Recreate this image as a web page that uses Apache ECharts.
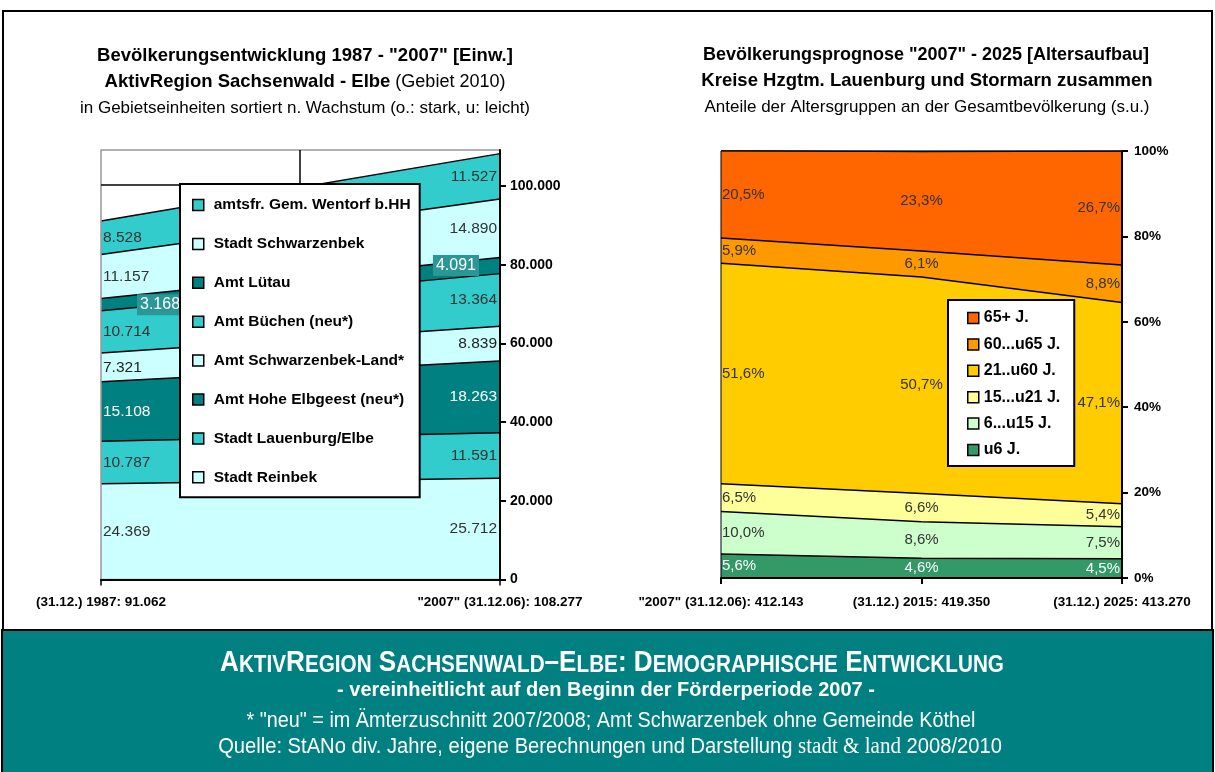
<!DOCTYPE html>
<html><head><meta charset="utf-8">
<script src="https://cdn.jsdelivr.net/npm/echarts@6/dist/echarts.min.js"></script>
<style>html,body{margin:0;padding:0;background:#fff}#c{width:1215px;height:772px}</style>
</head><body><div id="c"></div>
<script>
// ---------- LEFT CHART DATA ----------
const leftCategories = ['(31.12.) 1987: 91.062', '"2007" (31.12.06): 108.277'];
const leftSeriesNames = ['Stadt Reinbek', 'Stadt Lauenburg/Elbe', 'Amt Hohe Elbgeest (neu*)', 'Amt Schwarzenbek-Land*', 'Amt Büchen (neu*)', 'Amt Lütau', 'Stadt Schwarzenbek', 'amtsfr. Gem. Wentorf b.HH'];
const reinbek = [24369, 25712];
const lauenburg = [10787, 11591];
const hoheElbgeest = [15108, 18263];
const schwarzenbekLand = [7321, 8839];
const buechen = [10714, 13364];
const luetau = [3168, 4091];
const schwarzenbek = [11157, 14890];
const wentorf = [8528, 11527];
const leftYTicks = [0, 20000, 40000, 60000, 80000, 100000];

// ---------- RIGHT CHART DATA ----------
const rightCategories = ['"2007" (31.12.06): 412.143', '(31.12.) 2015: 419.350', '(31.12.) 2025: 413.270'];
const rightSeriesNames = ['u6 J.', '6...u15 J.', '15...u21 J.', '21..u60 J.', '60...u65 J.', '65+ J.'];
const u6 = [5.6, 4.6, 4.5];
const u6to15 = [10.0, 8.6, 7.5];
const u15to21 = [6.5, 6.6, 5.4];
const u21to60 = [51.6, 50.7, 47.1];
const u60to65 = [5.9, 6.1, 8.8];
const over65 = [20.5, 23.3, 26.7];
const rightYTicks = [0, 20, 40, 60, 80, 100];

// ---------- STYLE ----------
const FONT = '"Liberation Sans", Arial, sans-serif';
const leftColors = ['#CCFFFF', '#33CCCC', '#008080', '#CCFFFF', '#33CCCC', '#008080', '#CCFFFF', '#33CCCC'];
const leftTextColors = ['#333', '#333', '#fff', '#222', '#333', '#fff', '#333', '#333'];
const rightColors = ['#339966', '#CCFFCC', '#FFFF99', '#FFCC00', '#FF9900', '#FF6600'];

const leftValues = [reinbek, lauenburg, hoheElbgeest, schwarzenbekLand, buechen, luetau, schwarzenbek, wentorf];
const rightValues = [u6, u6to15, u15to21, u21to60, u60to65, over65];

function fmtThousands(v) { return String(Math.round(v)).replace(/\B(?=(\d{3})+(?!\d))/g, '.'); }
function fmtPct(v) { return v.toFixed(1).replace('.', ',') + '%'; }

function buildLabelData(arrs) {
  const out = []; const n = arrs[0].length;
  for (let c = 0; c < n; c++) {
    let acc = 0;
    arrs.forEach((a, si) => { out.push([c, acc, acc + a[c], si, a[c]]); acc += a[c]; });
  }
  return out;
}

const series = [];
leftValues.forEach((arr, i) => {
  series.push({
    name: leftSeriesNames[i], type: 'line', xAxisIndex: 0, yAxisIndex: 0, stack: 'left',
    data: arr, symbol: 'none', z: 20 - i, silent: true,
    lineStyle: { color: '#000', width: 1.5 },
    areaStyle: { color: leftColors[i], opacity: 1 },
    itemStyle: { color: leftColors[i] }
  });
});
rightValues.forEach((arr, i) => {
  series.push({
    name: rightSeriesNames[i], type: 'line', xAxisIndex: 1, yAxisIndex: 1, stack: 'right',
    data: arr, symbol: 'none', z: 20 - i, silent: true,
    lineStyle: { color: '#000', width: 1.5 },
    areaStyle: { color: rightColors[i], opacity: 1 },
    itemStyle: { color: rightColors[i] }
  });
});

series.push({
  type: 'custom', xAxisIndex: 0, yAxisIndex: 0, z: 40, silent: true,
  data: buildLabelData(leftValues), encode: { x: 0, y: 2 },
  renderItem: function (params, api) {
    const c = api.value(0), lo = api.value(1), hi = api.value(2), si = api.value(3), v = api.value(4);
    const p = api.coord([c, (lo + hi) / 2]);
    const first = c === 0;
    const style = {
      text: fmtThousands(v), align: first ? 'left' : 'right', verticalAlign: 'middle',
      fill: leftTextColors[si], font: '15.5px ' + FONT
    };
    let x = first ? p[0] + 2 : p[0] - 3;
    if (si === 5) {
      x = first ? p[0] + 36 : p[0] - 21;
      style.backgroundColor = '#2a9696'; style.fill = '#fff'; style.padding = [3, 3, 2, 3];
      style.font = '16px ' + FONT;
    }
    return { type: 'text', x: x, y: p[1], style: style };
  }
});
series.push({
  type: 'custom', xAxisIndex: 1, yAxisIndex: 1, z: 40, silent: true,
  data: buildLabelData(rightValues), encode: { x: 0, y: 2 },
  renderItem: function (params, api) {
    const c = api.value(0), lo = api.value(1), hi = api.value(2), si = api.value(3), v = api.value(4);
    const p = api.coord([c, (Math.min(lo, 100) + Math.min(hi, 100)) / 2]);
    const align = c === 0 ? 'left' : (c === 2 ? 'right' : 'center');
    const x = c === 0 ? p[0] + 1 : (c === 2 ? p[0] - 2 : p[0]);
    return { type: 'text', x: x, y: p[1], style: {
      text: fmtPct(v), align: align, verticalAlign: 'middle',
      fill: si === 0 ? '#fff' : '#333', font: '15px ' + FONT } };
  }
});

function smallCaps(str) {
  let out = '', run = '', runType = null;
  const flush = () => { if (run) out += '{' + runType + '|' + run + '}'; run = ''; };
  for (const ch of str) {
    const t = (ch !== ch.toUpperCase()) ? 's' : 'c';
    if (t !== runType) { flush(); runType = t; }
    run += ch.toUpperCase();
  }
  flush();
  return out;
}

const axisLabelStyle = { color: '#000', fontWeight: 'bold', fontSize: 13.5, fontFamily: FONT };

const option = {
  animation: false,
  backgroundColor: '#fff',
  grid: [
    { left: 101, top: 150, width: 399, height: 429.5, show: true, borderColor: '#999', borderWidth: 1.5, backgroundColor: 'transparent', z: 30 },
    { left: 721, top: 151, width: 401, height: 427, show: true, borderColor: '#000', borderWidth: 1, backgroundColor: 'transparent', z: 30 }
  ],
  xAxis: [
    { type: 'category', gridIndex: 0, data: leftCategories, boundaryGap: false, z: 45,
      axisLine: { lineStyle: { color: '#000', width: 2 } },
      axisTick: { show: true, length: 6, lineStyle: { color: '#000', width: 1.5 } },
      axisLabel: Object.assign({ margin: 16, interval: 0 }, axisLabelStyle), splitLine: { show: false } },
    { type: 'category', gridIndex: 1, data: rightCategories, boundaryGap: false, z: 45,
      axisLine: { lineStyle: { color: '#000', width: 2 } },
      axisTick: { show: true, length: 6, interval: 0, lineStyle: { color: '#000', width: 2 } },
      axisLabel: Object.assign({ margin: 17, interval: 0, hideOverlap: false }, axisLabelStyle), splitLine: { show: false } }
  ],
  yAxis: [
    { type: 'value', gridIndex: 0, position: 'right', min: 0, max: 109200, z: 45,
      axisLine: { show: true, lineStyle: { color: '#000', width: 2 } },
      axisTick: { show: true, length: 6, customValues: leftYTicks, lineStyle: { color: '#000', width: 2 } },
      axisLabel: Object.assign({ margin: 10, customValues: leftYTicks, formatter: v => fmtThousands(v) }, axisLabelStyle, { fontSize: 14 }),
      splitLine: { show: false } },
    { type: 'value', gridIndex: 1, position: 'right', min: 0, max: 100, interval: 20, z: 45,
      axisLine: { show: true, lineStyle: { color: '#000', width: 2 } },
      axisTick: { show: true, length: 6, customValues: rightYTicks, lineStyle: { color: '#000', width: 2 } },
      axisLabel: Object.assign({ margin: 12, customValues: rightYTicks, formatter: v => v + '%' }, axisLabelStyle),
      splitLine: { show: false } }
  ],
  legend: [
    { orient: 'vertical', left: 180, top: 184, z: 50, icon: 'rect', itemWidth: 11, itemHeight: 11, itemGap: 22.9,
      padding: [13, 9, 12, 12], backgroundColor: '#fff', borderColor: '#000', borderWidth: 2, selectedMode: false,
      itemStyle: { borderColor: '#000', borderWidth: 1.5 },
      textStyle: { color: '#000', fontWeight: 'bold', fontSize: 15.5, fontFamily: FONT, padding: [0, 0, 0, 5] },
      data: leftSeriesNames.map((n, i) => ({ name: n, itemStyle: { color: leftColors[i] } })).reverse() },
    { orient: 'vertical', left: 948, top: 300, z: 50, icon: 'rect', itemWidth: 11, itemHeight: 11, itemGap: 10.4,
      padding: [10, 14, 8, 19], backgroundColor: '#fff', borderColor: '#000', borderWidth: 2, selectedMode: false,
      itemStyle: { borderColor: '#000', borderWidth: 1.5 },
      textStyle: { color: '#000', fontWeight: 'bold', fontSize: 16, fontFamily: FONT },
      data: rightSeriesNames.map((n, i) => ({ name: n, itemStyle: { color: rightColors[i] } })).reverse() }
  ],
  graphic: [
    { type: 'rect', z: 1, shape: { x: 3, y: 11, width: 1209, height: 620 }, style: { fill: 'none', stroke: '#000', lineWidth: 2 } },
    { type: 'rect', z: 60, shape: { x: 2, y: 630, width: 1211, height: 150 }, style: { fill: '#008080', stroke: '#000', lineWidth: 2 } },
    { type: 'line', z: 35, shape: { x1: 101, y1: 185, x2: 300, y2: 185 }, style: { stroke: '#000', lineWidth: 1.5 } },
    { type: 'line', z: 35, shape: { x1: 300, y1: 150, x2: 300, y2: 185 }, style: { stroke: '#000', lineWidth: 1.5 } },
    // left titles
    { type: 'text', z: 60, x: 305, y: 56, style: { text: 'Bevölkerungsentwicklung 1987 - "2007" [Einw.]', align: 'center', verticalAlign: 'middle', fill: '#000', font: 'bold 18.5px ' + FONT } },
    { type: 'text', z: 60, x: 305, y: 82, style: { text: '{b|AktivRegion Sachsenwald - Elbe} {n|(Gebiet 2010)}', align: 'center', verticalAlign: 'middle', fill: '#000', font: '18px ' + FONT,
      rich: { b: { fontWeight: 'bold', fontSize: 18.5, fontFamily: FONT, fill: '#000' }, n: { fontSize: 18, fontFamily: FONT, fill: '#000' } } } },
    { type: 'text', z: 60, x: 305, y: 108, style: { text: 'in Gebietseinheiten sortiert n. Wachstum (o.: stark, u: leicht)', align: 'center', verticalAlign: 'middle', fill: '#000', font: '17px ' + FONT } },
    // right titles
    { type: 'text', z: 60, x: 926, y: 55, style: { text: 'Bevölkerungsprognose "2007" - 2025 [Altersaufbau]', align: 'center', verticalAlign: 'middle', fill: '#000', font: 'bold 18px ' + FONT } },
    { type: 'text', z: 60, x: 927, y: 81, style: { text: 'Kreise Hzgtm. Lauenburg und Stormarn zusammen', align: 'center', verticalAlign: 'middle', fill: '#000', font: 'bold 18.5px ' + FONT } },
    { type: 'text', z: 60, x: 927, y: 107, style: { text: 'Anteile der Altersgruppen an der Gesamtbevölkerung (s.u.)', align: 'center', verticalAlign: 'middle', fill: '#000', font: '17px ' + FONT } },
    // banner
    { type: 'text', z: 61, x: 612, y: 663, scaleX: 0.9, style: { text: smallCaps('AktivRegion Sachsenwald–Elbe: Demographische Entwicklung'), align: 'center', verticalAlign: 'middle',
      rich: { c: { fontWeight: 'bold', fontSize: 29, fontFamily: FONT, fill: '#fff', verticalAlign: 'bottom', lineHeight: 29 },
              s: { fontWeight: 'bold', fontSize: 23, fontFamily: FONT, fill: '#fff', verticalAlign: 'bottom', lineHeight: 24 } } } },
    { type: 'text', z: 61, x: 606, y: 690, scaleX: 1.0, style: { text: '- vereinheitlicht auf den Beginn der Förderperiode 2007 -', align: 'center', verticalAlign: 'middle', fill: '#fff', font: 'bold 20px ' + FONT } },
    { type: 'text', z: 61, x: 611, y: 721, scaleX: 0.9, style: { text: '* "neu" = im Ämterzuschnitt 2007/2008; Amt Schwarzenbek ohne Gemeinde Köthel', align: 'center', verticalAlign: 'middle', fill: '#fff', font: '22px ' + FONT } },
    { type: 'text', z: 61, x: 610, y: 747, scaleX: 0.9, style: { text: '{n|Quelle: StANo div. Jahre, eigene Berechnungen und Darstellung }{s|stadt & land}{n| 2008/2010}', align: 'center', verticalAlign: 'middle',
      rich: { n: { fontSize: 22.4, fontFamily: FONT, fill: '#fff' }, s: { fontSize: 23.4, fontFamily: '"Liberation Serif", "Times New Roman", serif', fill: '#fff' } } } }
  ],
  series: series
};

const chart = echarts.init(document.getElementById('c'), null, { renderer: 'canvas' });
chart.setOption(option);
</script>
</body></html>
